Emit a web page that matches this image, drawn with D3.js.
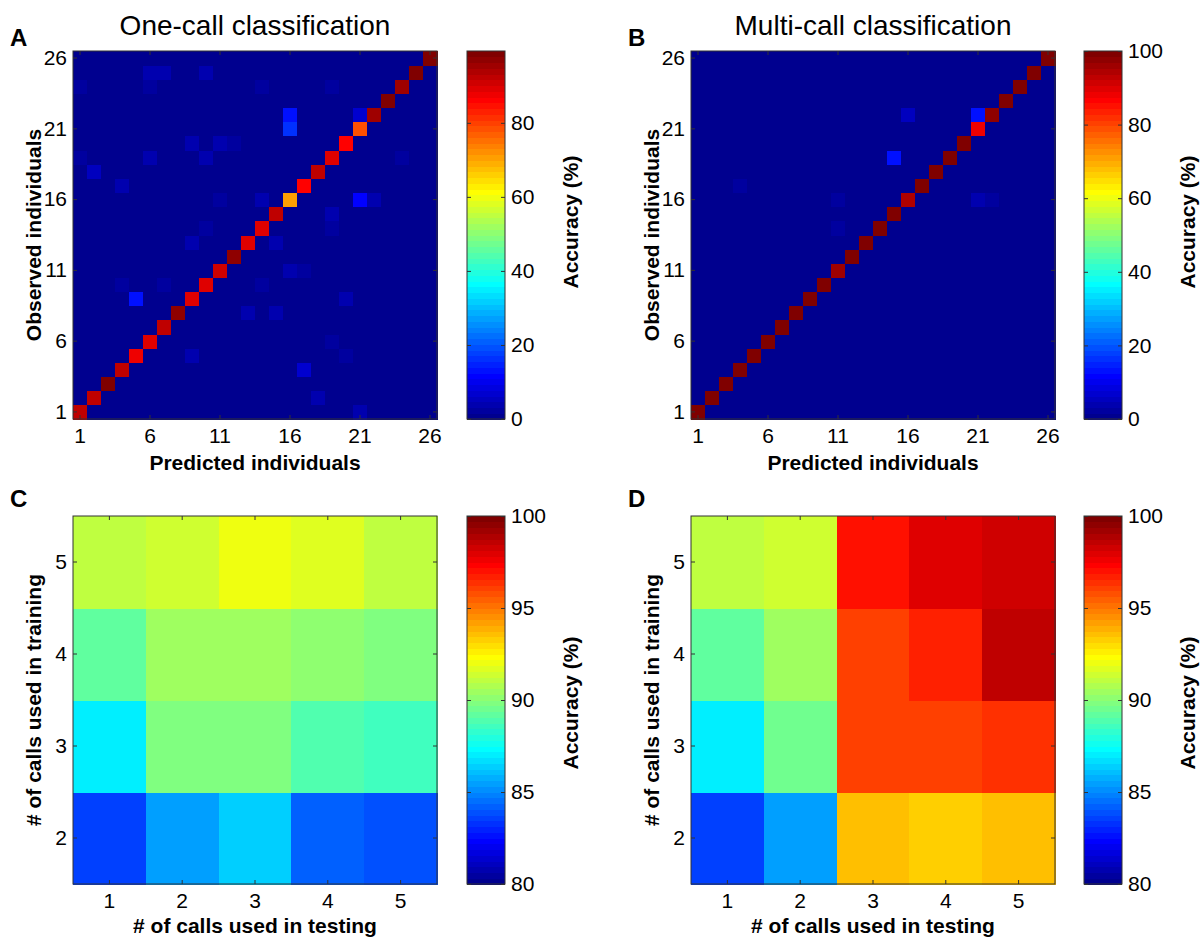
<!DOCTYPE html>
<html>
<head>
<meta charset="utf-8">
<style>
body { margin: 0; background: #fff; }
text { font-family: "Liberation Sans", Arial, sans-serif; fill: #000; }
.lab { font-size: 21px; font-weight: bold; }
.title { font-size: 28px; }
.letter { font-size: 24px; font-weight: bold; }
</style>
</head>
<body>
<script src="https://d3js.org/d3.v7.min.js"></script>
<svg id="fig" width="1203" height="942"></svg>
<script>
// ---- data ----
var individuals = [1,2,3,4,5,6,7,8,9,10,11,12,13,14,15,16,17,18,19,20,21,22,23,24,25,26];
var individualTicks = [1, 6, 11, 16, 21, 26];

// diagonal accuracy (%) per individual, one-call
var diagOneCall = [92.4, 92.4, 99.0, 92.4, 87.7, 89.3, 92.4, 97.0, 89.3, 90.0, 90.8, 97.0, 89.3,
                   90.0, 92.4, 70.6, 86.0, 92.4, 89.3, 86.0, 78.5, 95.5, 99.0, 95.5, 99.0, 99.4];
// off-diagonal confusions: [observed, predicted, %]
var offOneCall = [
  [25,6,3.9],[25,7,3.9],[25,10,3.9],[24,1,2.3],[24,6,2.3],[24,14,2.3],[24,19,2.3],
  [22,16,13.2],[21,16,16.0],[22,21,6.5],
  [20,9,3.9],[20,11,3.9],[20,12,2.3],
  [19,1,2.3],[19,6,3.9],[19,10,3.9],[19,24,2.3],
  [18,2,5.5],[17,4,3.9],
  [16,11,2.3],[16,14,3.9],[16,21,11.6],[16,22,3.9],
  [15,19,3.9],[14,10,2.3],[14,19,2.3],
  [13,9,3.9],[13,15,3.9],
  [11,16,3.9],[11,17,2.3],
  [10,4,2.3],[10,7,2.3],[10,14,2.3],
  [9,5,13.2],[9,20,3.9],
  [8,13,3.9],[8,15,3.9],
  [6,19,2.3],[5,9,3.9],[5,20,2.3],[4,17,6.5],[2,18,3.9],[1,21,3.9]
];

var diagMultiCall = [100, 100, 100, 100, 100, 100, 100, 100, 100, 100, 96, 100, 100,
                     100, 100, 94.5, 100, 100, 100, 100, 88, 98, 100, 100, 100, 100];
var offMultiCall = [
  [22,16,5.5],[22,21,13.5],[19,15,13],[17,4,2.5],[16,11,2.5],[16,21,4.5],[16,22,2.5],[14,11,2.5]
];

var testingCalls = [1, 2, 3, 4, 5];
var trainingCalls = [2, 3, 4, 5];
// rows: training 2,3,4,5 ; columns: testing 1..5
var accC = [
  [83.6, 85.6, 86.4, 84.2, 83.9],
  [87.0, 89.85, 89.85, 88.9, 88.6],
  [89.2, 90.45, 90.45, 90.15, 89.85],
  [91.1, 91.4, 92.0, 91.7, 91.1]
];
var accD = [
  [83.6, 85.6, 93.6, 93.3, 93.6],
  [87.0, 89.5, 96.1, 96.1, 96.4],
  [89.2, 90.45, 96.1, 96.7, 98.6],
  [91.1, 91.4, 97.0, 97.9, 98.3]
];

// ---- matlab jet(64) ----
function jet64() {
  var u = function(k) {
    if (k < 1 || k > 47) return 0;
    if (k <= 16) return k / 16;
    if (k <= 31) return 1;
    return (48 - k) / 16;
  };
  var out = [];
  for (var i = 1; i <= 64; i++) {
    out.push(d3.rgb(u(i - 24) * 255, u(i - 8) * 255, u(i + 8) * 255).toString());
  }
  return out;
}
var jet = jet64();

var svg = d3.select("#fig");
var lineCol = "#333";

function frame(g, x0, y0, w, h) {
  g.append("rect").attr("x", x0).attr("y", y0).attr("width", w).attr("height", h)
    .attr("fill", "none").attr("stroke", lineCol).attr("stroke-width", 1);
}

function styleAxis(sel) {
  sel.select(".domain").remove();
  sel.selectAll(".tick line").attr("stroke", lineCol);
}

function heatPanel(o) {
  var g = svg.append("g");
  var x = d3.scaleBand().domain(o.xCats).range([o.x0, o.x0 + o.w]);
  var y = d3.scaleBand().domain(o.yCats).range([o.y0 + o.h, o.y0]);
  var color = d3.scaleQuantize().domain(o.domain).range(jet);

  g.selectAll("rect.cell").data(o.cells).enter().append("rect")
    .attr("class", "cell")
    .attr("x", function(d) { return x(d.x); })
    .attr("y", function(d) { return y(d.y); })
    .attr("width", x.bandwidth() + 0.5)
    .attr("height", y.bandwidth() + 0.5)
    .attr("fill", function(d) { return color(d.v); })
    .attr("shape-rendering", "crispEdges");

  var tk = 4;
  g.append("g").attr("transform", "translate(0," + (o.y0 + o.h) + ")")
    .call(d3.axisBottom(x).tickValues(o.xTicks).tickSizeInner(-tk).tickSizeOuter(0).tickPadding(9))
    .call(styleAxis);
  g.append("g").attr("transform", "translate(0," + o.y0 + ")")
    .call(d3.axisTop(x).tickValues(o.xTicks).tickSizeInner(-tk).tickSizeOuter(0).tickFormat(""))
    .call(styleAxis);
  g.append("g").attr("transform", "translate(" + o.x0 + ",0)")
    .call(d3.axisLeft(y).tickValues(o.yTicks).tickSizeInner(-tk).tickSizeOuter(0).tickPadding(6))
    .call(styleAxis);
  g.append("g").attr("transform", "translate(" + (o.x0 + o.w) + ",0)")
    .call(d3.axisRight(y).tickValues(o.yTicks).tickSizeInner(-tk).tickSizeOuter(0).tickFormat(""))
    .call(styleAxis);
  frame(g, o.x0, o.y0, o.w, o.h);

  // colorbar
  var cb = o.cbx, cw = 38;
  var cy = d3.scaleLinear().domain(o.domain).range([o.y0 + o.h, o.y0]);
  var step = (o.domain[1] - o.domain[0]) / 64;
  var levels = d3.range(64);
  g.selectAll("rect.cb").data(levels).enter().append("rect")
    .attr("class", "cb")
    .attr("x", cb).attr("width", cw)
    .attr("y", function(i) { return cy(o.domain[0] + (i + 1) * step); })
    .attr("height", function(i) { return cy(o.domain[0] + i * step) - cy(o.domain[0] + (i + 1) * step) + 0.5; })
    .attr("fill", function(i) { return jet[i]; })
    .attr("shape-rendering", "crispEdges");
  g.append("g").attr("transform", "translate(" + (cb + cw) + ",0)")
    .call(d3.axisRight(cy).tickValues(o.cbTicks).tickSizeInner(-tk).tickSizeOuter(0).tickPadding(6).tickFormat(d3.format("d")))
    .call(styleAxis);
  g.append("g").attr("transform", "translate(" + cb + ",0)")
    .call(d3.axisLeft(cy).tickValues(o.cbTicks).tickSizeInner(-tk).tickSizeOuter(0).tickFormat(""))
    .call(styleAxis);
  g.selectAll(".tick text").style("font-family", "'Liberation Sans', Arial, sans-serif").style("font-size", "21px").attr("fill", "#000");
  frame(g, cb, o.y0, cw, o.h);

  // labels
  g.append("text").attr("class", "lab").attr("text-anchor", "middle")
    .attr("x", o.x0 + o.w / 2).attr("y", o.xLabelY).text(o.xLabel);
  g.append("text").attr("class", "lab").attr("text-anchor", "middle")
    .attr("transform", "translate(" + (o.x0 - 32) + "," + (o.y0 + o.h / 2) + ") rotate(-90)")
    .text(o.yLabel);
  g.append("text").attr("class", "lab").attr("text-anchor", "middle")
    .attr("transform", "translate(" + (cb + 111) + "," + o.cbLabelY + ") rotate(-90)")
    .text("Accuracy (%)");
  g.append("text").attr("class", "letter").attr("x", o.x0 - 63).attr("y", o.letterY).text(o.letter);
  if (o.title) {
    g.append("text").attr("class", "title").attr("text-anchor", "middle")
      .attr("x", o.x0 + o.w / 2).attr("y", 35).text(o.title);
  }
}

function confusionCells(diag, off) {
  var m = {};
  individuals.forEach(function(r) { individuals.forEach(function(c) { m[r + "_" + c] = 0; }); });
  diag.forEach(function(v, i) { m[individuals[i] + "_" + individuals[i]] = v; });
  off.forEach(function(d) { m[d[0] + "_" + d[1]] = d[2]; });
  var cells = [];
  individuals.forEach(function(r) {
    individuals.forEach(function(c) { cells.push({ x: c, y: r, v: m[r + "_" + c] }); });
  });
  return cells;
}

function gridCells(rows) {
  var cells = [];
  trainingCalls.forEach(function(t, i) {
    testingCalls.forEach(function(s, j) { cells.push({ x: s, y: t, v: rows[i][j] }); });
  });
  return cells;
}

var cellsA = confusionCells(diagOneCall, offOneCall);
heatPanel({
  x0: 73, y0: 51, w: 364, h: 368, cbx: 467,
  xCats: individuals, yCats: individuals, xTicks: individualTicks, yTicks: individualTicks,
  cells: cellsA, domain: [0, d3.max(cellsA, function(d) { return d.v; })],
  cbTicks: [0, 20, 40, 60, 80], cbLabelY: 222,
  xLabel: "Predicted individuals", xLabelY: 470, yLabel: "Observed individuals",
  letter: "A", letterY: 46, title: "One-call classification"
});
heatPanel({
  x0: 691, y0: 51, w: 364, h: 368, cbx: 1084,
  xCats: individuals, yCats: individuals, xTicks: individualTicks, yTicks: individualTicks,
  cells: confusionCells(diagMultiCall, offMultiCall), domain: [0, 100],
  cbTicks: [0, 20, 40, 60, 80, 100], cbLabelY: 222,
  xLabel: "Predicted individuals", xLabelY: 470, yLabel: "Observed individuals",
  letter: "B", letterY: 46, title: "Multi-call classification"
});
heatPanel({
  x0: 73, y0: 516, w: 364, h: 368, cbx: 467,
  xCats: testingCalls, yCats: trainingCalls, xTicks: testingCalls, yTicks: trainingCalls,
  cells: gridCells(accC), domain: [80, 100],
  cbTicks: [80, 85, 90, 95, 100], cbLabelY: 703,
  xLabel: "# of calls used in testing", xLabelY: 933, yLabel: "# of calls used in training",
  letter: "C", letterY: 507
});
heatPanel({
  x0: 691, y0: 516, w: 364, h: 368, cbx: 1084,
  xCats: testingCalls, yCats: trainingCalls, xTicks: testingCalls, yTicks: trainingCalls,
  cells: gridCells(accD), domain: [80, 100],
  cbTicks: [80, 85, 90, 95, 100], cbLabelY: 703,
  xLabel: "# of calls used in testing", xLabelY: 933, yLabel: "# of calls used in training",
  letter: "D", letterY: 507
});
</script>
</body>
</html>
